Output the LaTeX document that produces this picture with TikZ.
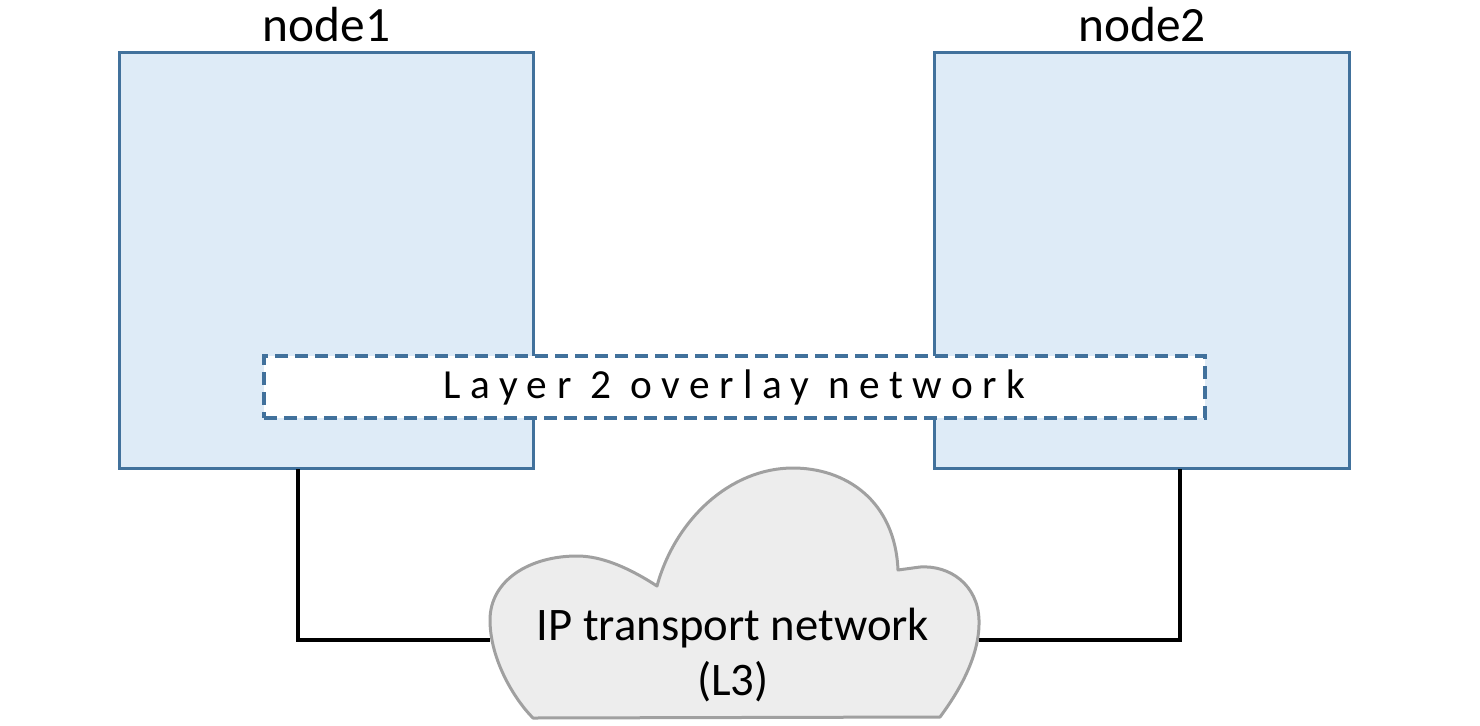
\documentclass[tikz,border=0pt]{standalone}
\usepackage{fontspec}
\setmainfont{Carlito}
\usetikzlibrary{positioning}
\definecolor{boxblue}{RGB}{222,235,247}
\definecolor{edgeblue}{RGB}{65,113,156}
\definecolor{cloudgray}{RGB}{237,237,237}
\definecolor{cloudedge}{RGB}{160,160,160}

\begin{document}
\begin{tikzpicture}[
  x=0.75pt, y=-0.75pt,
  host/.style={rectangle, draw=edgeblue, fill=boxblue, line width=2.25pt, minimum width=311pt, minimum height=312.5pt, inner sep=0pt, outer sep=0pt},
  hostname/.style={font=\fontsize{37}{44}\selectfont, inner sep=0pt},
  l2net/.style={rectangle, draw=edgeblue, fill=white, line width=3pt, dash pattern=on 9.5pt off 5.5pt, minimum width=705.75pt, minimum height=46.5pt, inner sep=0pt, font=\fontsize{31}{36}\selectfont\addfontfeature{LetterSpace=23}},
  link/.style={draw=black, line width=3pt},
  cloudshape/.style={draw=cloudedge, fill=cloudgray, line width=2.25pt, line join=round}
]
\useasboundingbox (0,0) rectangle (1480,725);

% the two hosts
\node[host] (node1) at (326.5,260.5) {};
\node[host, right=300.75pt of node1] (node2) {};
\node[hostname, above=7.5pt of node1] (name1) {node1};
\node[hostname, above=7.5pt of node2] (name2) {node2};

% overlay spanning both hosts
\node[l2net] (l2) at (734.5,387) {Layer 2 overlay network};

% underlay cloud
\coordinate (n1port) at (298,469);
\coordinate (n2port) at (1180,469);
\coordinate (cloudW) at (490,640);
\coordinate (cloudE) at (979,640);
\draw[link] (n1port) |- (cloudW);
\draw[link] (n2port) |- (cloudE);

\draw[cloudshape] (533,718) -- (940,717)
  .. controls (960,690) and (980,655) .. (979,620)
  .. controls (978,585) and (950,565) .. (920,567) -- (898,570)
  .. controls (895,500) and (845,468) .. (793,468)
  .. controls (730,468) and (675,520) .. (657,586)
  .. controls (620,562) and (595,556) .. (577,556)
  .. controls (530,556) and (490,580) .. (490,620)
  .. controls (490,660) and (515,700) .. (533,718) -- cycle;
\node[font=\fontsize{35}{41}\selectfont, align=center, inner sep=0pt] (cloud) at (733,655) {IP transport network\\(L3)};
\end{tikzpicture}
\end{document}
